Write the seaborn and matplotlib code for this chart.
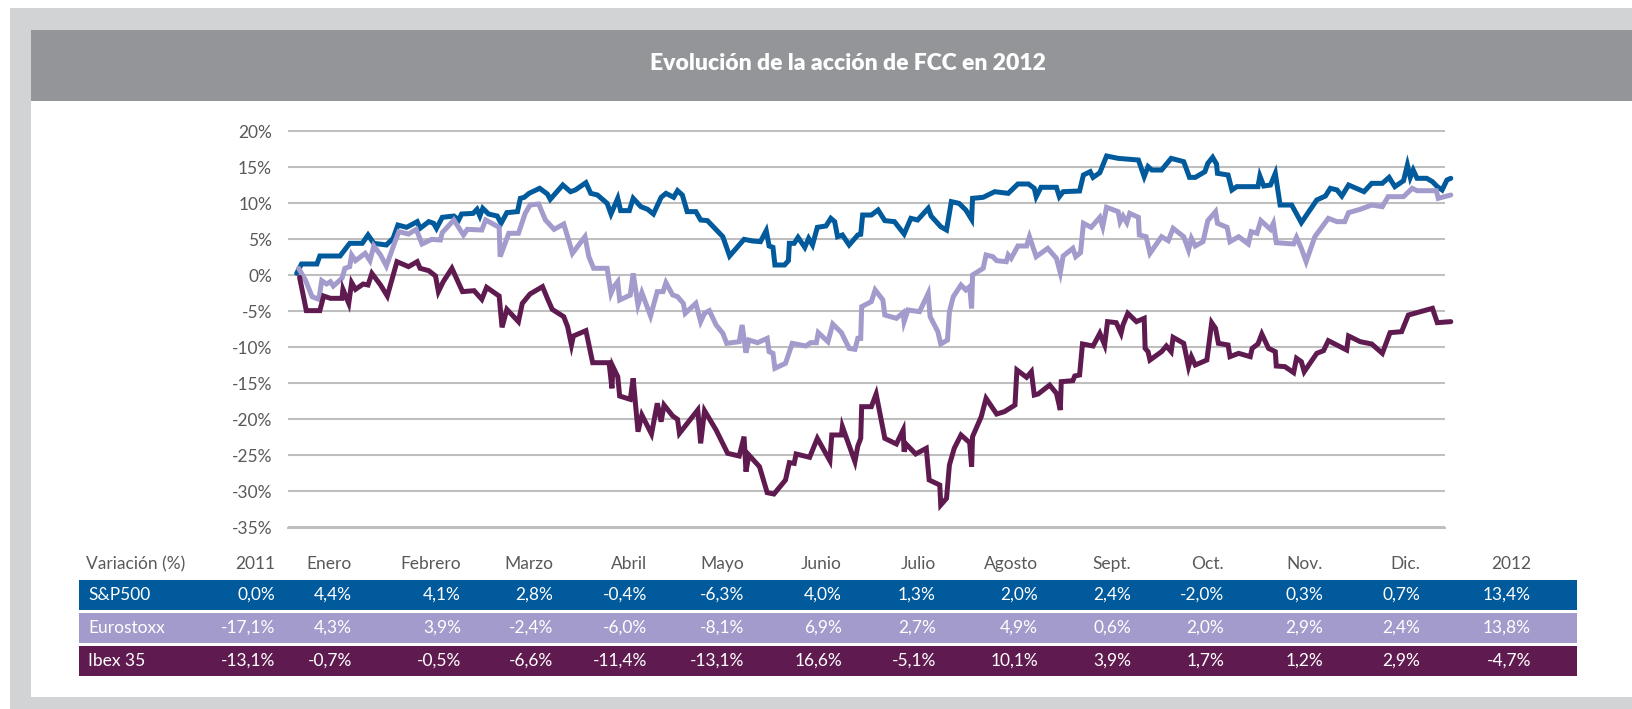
import pandas as pd
import matplotlib
matplotlib.use("Agg")
import matplotlib.pyplot as plt
from matplotlib.patches import Rectangle
import seaborn as sns

# Series: x = position in months (0 = start of January 2012), y = % change
sp_x = [0.09, 0.14, 0.30, 0.33, 0.54, 0.64, 0.77, 0.83, 0.89, 1.02, 1.09, 1.14, 1.23, 1.34, 1.37, 1.46,
        1.51, 1.54, 1.60, 1.72, 1.77, 1.80, 1.92, 1.96, 1.99, 2.02, 2.08, 2.17, 2.21, 2.27, 2.38, 2.41,
        2.45, 2.50, 2.61, 2.69, 2.72, 2.85, 2.93,
        2.98, 3.09, 3.14, 3.21, 3.31, 3.35, 3.42, 3.45, 3.54, 3.58, 3.66, 3.73, 3.79, 3.87, 3.92, 4.00,
        4.04, 4.09, 4.14, 4.23, 4.28, 4.35, 4.51, 4.58, 4.73, 4.82, 4.90, 4.96, 4.99, 5.03, 5.05, 5.15,
        5.19, 5.20, 5.25, 5.29, 5.36, 5.40, 5.44, 5.49, 5.58, 5.63, 5.67, 5.70, 5.75, 5.82, 5.91, 5.94, 5.96,
        6.05, 6.12, 6.19, 6.29, 6.39, 6.46, 6.53, 6.64, 6.67, 6.77, 6.83, 6.88, 6.96, 7.03, 7.09, 7.10,
        7.21, 7.33, 7.47, 7.57, 7.68, 7.74, 7.76, 7.81, 7.97, 8.00, 8.04, 8.21, 8.25, 8.32, 8.35, 8.42,
        8.49, 8.61, 8.82, 8.88, 8.92, 8.96,
        9.06, 9.16, 9.29, 9.35, 9.41, 9.51, 9.54, 9.59, 9.63, 9.64, 9.75, 9.79, 9.84, 10.06, 10.08, 10.12,
        10.19, 10.24, 10.29, 10.41, 10.51, 10.67, 10.76, 10.81, 10.88, 10.93, 11.00, 11.16, 11.24, 11.35,
        11.42, 11.48, 11.57, 11.61, 11.64, 11.67, 11.71, 11.81, 11.87, 11.92, 11.97, 12.02, 12.06]
sp_y = [0.23, 1.53, 1.53, 2.64, 2.64, 4.40, 4.40, 5.56, 4.40, 4.17, 5.09, 6.94, 6.62, 7.41, 6.48, 7.41,
        7.18, 6.48, 8.01, 8.19, 7.64, 8.47, 8.56, 9.12, 8.19, 9.26, 8.47, 8.19, 7.18, 8.66, 8.80, 10.65,
        10.79, 11.34, 12.04, 11.25, 10.51, 12.50, 11.57,
        11.81, 12.82, 11.34, 11.11, 9.95, 8.47, 10.65, 8.94, 8.94, 10.65, 9.49, 9.12, 8.47, 10.79, 11.34, 10.79,
        11.71, 11.11, 8.80, 8.80, 7.64, 7.55, 5.32, 2.64, 4.95, 4.72, 4.63, 6.16, 4.03, 3.84, 1.39, 1.39,
        1.99, 4.40, 4.40, 5.23, 3.84, 5.09, 4.17, 6.62, 6.81, 7.87, 7.41, 5.32, 5.56, 4.17, 5.56, 5.65, 8.33,
        8.33, 9.03, 7.55, 7.41, 5.69, 7.87, 7.64, 9.26, 8.19, 6.71, 6.25, 10.19, 9.95, 9.03, 7.73, 10.65,
        10.79, 11.57, 11.34, 12.64, 12.64, 12.04, 10.88, 12.18, 12.18, 10.88, 11.57, 11.67, 13.89, 14.35, 13.56, 14.21,
        16.53, 16.20, 15.97, 13.66, 15.05, 14.58,
        14.58, 16.20, 15.74, 13.56, 13.56, 14.35, 15.51, 16.34, 15.42, 14.12, 13.89, 11.81, 12.27, 12.27, 13.75, 12.36,
        12.50, 14.12, 9.72, 9.72, 7.27, 10.42, 10.97, 12.04, 11.81, 10.97, 12.50, 11.57, 12.73, 12.73,
        13.56, 12.27, 13.10, 15.28, 13.56, 14.58, 13.43, 13.43, 12.96, 12.27, 11.81, 13.19, 13.43]

euro_x = [0.11, 0.18, 0.25, 0.32, 0.35, 0.40, 0.44, 0.47, 0.56, 0.59, 0.64, 0.66, 0.70, 0.80, 0.85, 0.89,
          0.96, 1.02, 1.11, 1.15, 1.25, 1.33, 1.39, 1.49, 1.58, 1.60, 1.72, 1.82, 1.86, 2.01, 2.05, 2.19,
          2.20, 2.29, 2.39, 2.46, 2.51, 2.60, 2.67, 2.76, 2.86, 2.90, 2.95,
          3.08, 3.12, 3.17, 3.31, 3.35, 3.38, 3.42, 3.44, 3.55, 3.58, 3.63, 3.67, 3.76, 3.83, 3.89, 3.92,
          3.99, 4.04, 4.10, 4.12, 4.23, 4.28, 4.32, 4.37, 4.44, 4.51, 4.55, 4.68, 4.71, 4.75, 4.78, 4.87,
          4.97, 4.99, 5.03, 5.05, 5.16, 5.23, 5.37, 5.42, 5.48, 5.50, 5.60, 5.65, 5.74, 5.82, 5.88, 5.91,
          5.94, 5.95,
          6.05, 6.09, 6.17, 6.19, 6.31, 6.38, 6.39, 6.43, 6.55, 6.64, 6.66, 6.74, 6.77, 6.84, 6.86, 6.90,
          6.98, 7.03, 7.07, 7.09, 7.10, 7.21, 7.24, 7.31, 7.35, 7.45, 7.47, 7.50, 7.57, 7.66, 7.69, 7.76,
          7.88, 7.97, 8.01, 8.04, 8.14, 8.17, 8.22, 8.25, 8.33, 8.42, 8.45, 8.49, 8.61, 8.63, 8.66, 8.70,
          8.73, 8.82, 8.83, 8.90, 8.94,
          9.06, 9.13, 9.18, 9.29, 9.34, 9.37, 9.41, 9.49, 9.54, 9.62, 9.64, 9.74, 9.77, 9.86, 9.96, 9.99,
          10.05, 10.09, 10.19, 10.22, 10.25, 10.43, 10.46, 10.51, 10.56, 10.65, 10.79, 10.88, 10.96, 11.00,
          11.12, 11.24, 11.35, 11.41, 11.57, 11.66, 11.71, 11.91, 11.93, 12.06]
euro_y = [0.93, -0.69, -3.01, -3.38, -0.79, -1.25, -0.93, -1.53, -0.46, 0.93, 1.16, 2.78, 1.99, 3.01, 1.99, 4.03,
          2.78, 1.25, 4.63, 6.02, 5.69, 6.34, 4.31, 4.95, 4.86, 5.88, 7.64, 5.56, 6.34, 6.25, 7.64, 6.62,
          2.55, 5.79, 5.79, 8.56, 9.72, 9.86, 7.64, 6.34, 7.08, 5.32, 3.01,
          5.32, 2.55, 0.93, 0.93, -2.55, -1.62, -0.93, -3.47, -2.78, 0.23, -4.17, -2.45, -5.69, -2.31, -2.31, -1.06,
          -2.78, -3.01, -3.94, -5.32, -3.94, -6.48, -5.32, -4.95, -6.94, -8.10, -9.49, -9.26, -6.94, -10.79, -9.03, -9.40,
          -8.80, -10.65, -10.88, -12.96, -12.27, -9.49, -9.86, -9.40, -9.40, -8.01, -9.26, -6.81, -8.01, -10.19, -10.32, -8.80,
          -8.80, -4.40,
          -3.70, -2.08, -3.47, -5.56, -6.02, -5.23, -6.48, -4.86, -5.09, -2.55, -5.79, -7.87, -9.58, -9.03, -5.09, -3.01,
          -1.39, -2.08, -1.62, -4.63, 0.00, 0.93, 2.78, 2.55, 1.99, 1.85, 2.78, 2.31, 4.03, 4.03, 5.32, 2.55,
          3.70, 2.31, 0.32, 2.64, 3.70, 2.55, 3.10, 7.18, 6.62, 8.01, 6.71, 9.40, 8.80, 7.41, 8.19, 7.27,
          8.56, 8.01, 5.56, 5.32, 3.01,
          5.32, 4.77, 6.48, 5.32, 3.47, 5.09, 4.03, 4.63, 7.55, 8.80, 7.18, 6.62, 4.63, 5.32, 4.31, 6.02,
          5.79, 7.55, 6.34, 7.18, 4.49, 4.31, 5.23, 3.70, 1.85, 5.32, 7.87, 7.41, 7.41, 8.66,
          9.12, 9.72, 9.49, 10.88, 10.88, 12.04, 11.71, 11.71, 10.65, 11.11]

ibex_x = [0.12, 0.19, 0.33, 0.37, 0.44, 0.56, 0.57, 0.63, 0.66, 0.70, 0.78, 0.83, 0.87, 0.96, 1.03, 1.13,
          1.25, 1.34, 1.37, 1.46, 1.53, 1.56, 1.61, 1.70, 1.81, 1.93, 2.01, 2.06, 2.19, 2.22, 2.27, 2.39,
          2.43, 2.51, 2.64, 2.69, 2.74, 2.86, 2.90, 2.94, 2.96,
          3.09, 3.16, 3.33, 3.36, 3.37, 3.42, 3.44, 3.55, 3.58, 3.63, 3.67, 3.77, 3.83, 3.87, 3.90, 3.99,
          4.04, 4.06, 4.25, 4.28, 4.32, 4.44, 4.56, 4.68, 4.73, 4.75, 4.78, 4.89, 4.97, 5.04, 5.16, 5.20,
          5.25, 5.27, 5.41, 5.49, 5.62, 5.64, 5.74, 5.75, 5.88, 5.91, 5.94, 5.95,
          6.05, 6.10, 6.19, 6.31, 6.38, 6.39, 6.41, 6.51, 6.62, 6.65, 6.76, 6.77, 6.83, 6.86, 6.91, 6.98,
          7.07, 7.09, 7.10, 7.19, 7.24, 7.35, 7.43, 7.54, 7.56, 7.66, 7.71, 7.74, 7.78, 7.90, 7.97, 8.01,
          8.02, 8.14, 8.16, 8.21, 8.24, 8.35, 8.42, 8.47, 8.50, 8.59, 8.64, 8.66, 8.71, 8.80, 8.88, 8.89,
          8.92, 8.94,
          9.06, 9.11, 9.16, 9.18, 9.29, 9.34, 9.37, 9.41, 9.53, 9.58, 9.62, 9.65, 9.75, 9.77, 9.86, 9.98,
          10.00, 10.06, 10.10, 10.17, 10.24, 10.25, 10.34, 10.43, 10.46, 10.51, 10.54, 10.67, 10.74, 10.79,
          10.98, 11.00, 11.12, 11.24, 11.35, 11.43, 11.55, 11.62, 11.87, 11.92, 12.06]
ibex_y = [-0.32, -4.95, -4.95, -2.92, -3.24, -3.24, -1.99, -3.94, -1.06, -1.99, -1.25, -1.39, 0.23, -1.39, -2.92, 1.85,
          1.16, 1.85, 0.93, 0.60, -0.14, -2.31, -0.93, 0.93, -2.31, -2.18, -3.38, -1.71, -2.92, -7.27, -4.77, -6.48,
          -3.94, -2.64, -1.62, -3.24, -4.77, -5.79, -7.18, -9.72, -8.47,
          -7.73, -12.18, -12.18, -15.74, -12.73, -14.12, -16.81, -17.27, -14.35, -21.76, -19.44, -22.08, -17.82, -20.37, -18.06, -19.58,
          -20.05, -21.99, -18.75, -23.38, -18.84, -21.53, -24.77, -25.14, -22.45, -27.31, -25.00, -26.62, -30.23, -30.42, -28.47, -26.06,
          -26.16, -24.86, -25.32, -22.69, -25.79, -22.22, -22.22, -21.06, -25.93, -23.75, -22.69, -18.29,
          -18.29, -16.53, -22.69, -23.47, -21.53, -24.54, -23.47, -24.86, -24.07, -28.47, -29.17, -31.94, -31.02, -26.39, -24.07, -22.22,
          -23.29, -26.62, -22.45, -19.68, -17.13, -19.31, -18.98, -18.06, -13.19, -14.21, -13.43, -16.67, -16.53, -15.28, -16.44, -18.75,
          -14.81, -14.68, -14.03, -13.89, -9.58, -9.86, -8.10, -9.72, -6.48, -6.62, -8.10, -6.94, -5.32, -6.48, -6.02, -10.19,
          -10.65, -11.81,
          -10.65, -9.86, -10.65, -8.66, -9.49, -12.73, -11.34, -12.50, -11.81, -6.62, -7.41, -9.49, -9.72, -11.34, -10.88, -11.34,
          -10.19, -9.58, -8.19, -10.19, -10.65, -12.64, -12.73, -13.56, -11.57, -12.04, -13.43, -10.88, -10.51, -9.12,
          -10.42, -8.47, -9.26, -9.58, -10.88, -8.01, -7.87, -5.56, -4.63, -6.62, -6.48]

series_names = ["S&P500", "Eurostoxx", "Ibex 35"]
series_colors = ["#005A9C", "#A29BCB", "#5F1B50"]

# Table under the chart
col_labels = ["2011", "Enero", "Febrero", "Marzo", "Abril", "Mayo", "Junio", "Julio",
              "Agosto", "Sept.", "Oct.", "Nov.", "Dic.", "2012"]
sp_row = ["0,0%", "4,4%", "4,1%", "2,8%", "-0,4%", "-6,3%", "4,0%", "1,3%",
          "2,0%", "2,4%", "-2,0%", "0,3%", "0,7%", "13,4%"]
euro_row = ["-17,1%", "4,3%", "3,9%", "-2,4%", "-6,0%", "-8,1%", "6,9%", "2,7%",
            "4,9%", "0,6%", "2,0%", "2,9%", "2,4%", "13,8%"]
ibex_row = ["-13,1%", "-0,7%", "-0,5%", "-6,6%", "-11,4%", "-13,1%", "16,6%", "-5,1%",
            "10,1%", "3,9%", "1,7%", "1,2%", "2,9%", "-4,7%"]

df = pd.concat([
    pd.DataFrame({"mes": sp_x, "valor": sp_y, "indice": "S&P500"}),
    pd.DataFrame({"mes": euro_x, "valor": euro_y, "indice": "Eurostoxx"}),
    pd.DataFrame({"mes": ibex_x, "valor": ibex_y, "indice": "Ibex 35"}),
], ignore_index=True)

sns.set_style("white")
plt.rcParams["font.family"] = ["Lato", "DejaVu Sans"]

W, H = 1632, 709
fig = plt.figure(figsize=(W / 100, H / 100), dpi=100)


def fx(px):
    return px / W


def fy(py):
    return 1 - py / H


def box(x0, y0, x1, y1, color, z):
    fig.patches.append(Rectangle((fx(x0), fy(y1)), fx(x1 - x0), (y1 - y0) / H,
                                 transform=fig.transFigure, facecolor=color,
                                 edgecolor="none", zorder=z))


# frame, title banner and white panel
box(10, 8, W, H, "#D1D3D4", -20)
box(31, 30, W, 101, "#939598", -19)
box(31, 101, W, 697, "white", -19)
fig.text(fx(848), fy(64), "Evolución de la acción de FCC en 2012", ha="center", va="center",
         color="white", fontsize=16.5, fontweight="heavy")

# chart
ax = fig.add_axes([fx(288), fy(528.44), fx(1445 - 288), (528.44 - 129.56) / H])
ax.patch.set_alpha(0)
sns.lineplot(data=df, x="mes", y="valor", hue="indice", hue_order=series_names,
             palette=series_colors, estimator=None, sort=False, linewidth=3.6,
             legend=False, ax=ax)
for ln in ax.lines:
    ln.set_clip_on(False)
    ln.set_solid_joinstyle("miter")

ax.set_xlim(0, 12)
ax.set_ylim(-35.2, 20.2)
yt = list(range(-35, 25, 5))
ax.set_yticks(yt)
ax.set_yticklabels([f"{v}%" for v in yt])
ax.set_xticks(range(13))
ax.set_xticklabels([])
ax.grid(axis="y", color="#BFBFBF", linewidth=1.5)
ax.set_axisbelow(True)
ax.tick_params(axis="y", length=0, pad=11.5, labelsize=12.5, labelcolor="#58595B")
ax.tick_params(axis="x", length=7.5, width=1.5, color="#BFBFBF", direction="out")
for s in ["top", "right", "left"]:
    ax.spines[s].set_visible(False)
ax.spines["bottom"].set_color("#BFBFBF")
ax.spines["bottom"].set_linewidth(1.5)
ax.set_xlabel("")
ax.set_ylabel("")

# table
col_right = [275, 352, 461, 553, 647, 744, 842, 936, 1038, 1131, 1224, 1323, 1420, 1531]
txt_kw = dict(fontsize=12.5, va="center")
fig.text(fx(86), fy(564), "Variación (%)", ha="left", color="#58595B", **txt_kw)
for xr, lab in zip(col_right, col_labels):
    fig.text(fx(xr), fy(564), lab, ha="right", color="#58595B", **txt_kw)

rows = [(sp_row, 580, 610), (euro_row, 613, 643), (ibex_row, 646, 676)]
for (vals, y0, y1), name, col in zip(rows, series_names, series_colors):
    box(79, y0, 1577, y1, col, -5)
    yc = (y0 + y1) / 2
    fig.text(fx(88), fy(yc), name, ha="left", color="white", **txt_kw)
    for xr, v in zip(col_right, vals):
        fig.text(fx(xr), fy(yc), v, ha="right", color="white", **txt_kw)

fig.savefig("out.png", dpi=100, facecolor="white")
